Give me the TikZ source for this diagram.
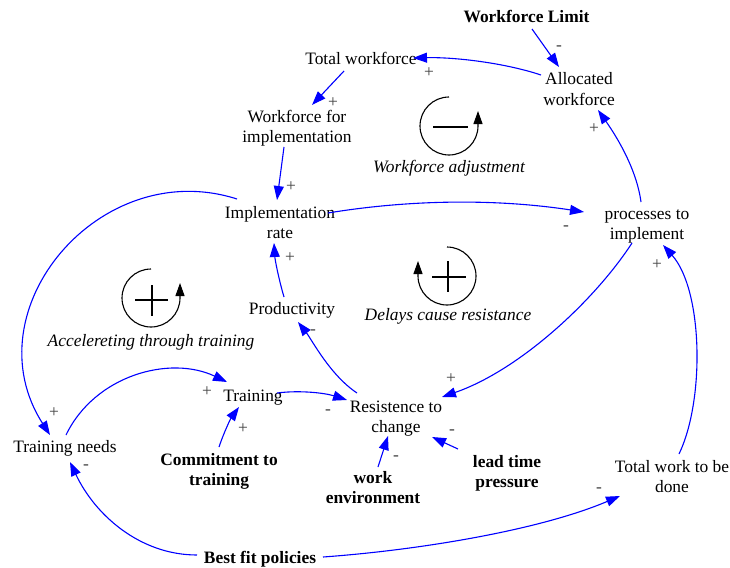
\documentclass[tikz,border=0pt]{standalone}
\usepackage{fontspec}
\setmainfont{Liberation Serif}
\usetikzlibrary{arrows.meta,calc}

\newcommand\cldfont{\fontsize{17.4}{20.5}\selectfont}

\tikzset{
  var/.style={anchor=base, align=center, inner sep=0pt, font=\cldfont},
  ext/.style={var, font=\cldfont\bfseries},
  loopname/.style={anchor=base, inner sep=0pt, font=\cldfont\itshape},
  sign/.style={inner sep=0pt, text=black!75, font=\cldfont},
  link/.style={blue, line width=1.1pt, -{Triangle[length=14pt,width=10pt]}},
  loopline/.style={line width=1.1pt, -{Triangle[length=13pt,width=9pt]}},
  polarity/.style={line width=2pt},
}

\begin{document}
\begin{tikzpicture}[x=1pt, y=-1pt]
\useasboundingbox (0,0) rectangle (730,567);

% variables (base = baseline of the last line)
\node[ext] (wl)     at (526.5,23)   {Workforce Limit};
\node[var] (twf)    at (361,65)     {Total workforce};
\node[var] (alloc)  at (579,105.5)  {Allocated\\workforce};
\node[var] (wfi)    at (297,142.5)  {Workforce for\\implementation};
\node[var] (impl)   at (280,238.5)  {Implementation\\rate};
\node[var] (proc)   at (647,239.5)  {processes to\\implement};
\node[var] (prod)   at (292,314)    {Productivity};
\node[var] (train)  at (253,401)    {Training};
\node[var] (res)    at (396,432.5)  {Resistence to\\change};
\node[var] (tneeds) at (65,452)     {Training needs};
\node[ext] (commit) at (219,485.5)  {Commitment to\\training};
\node[ext] (wenv)   at (373,503.5)  {work\\environment};
\node[ext] (lead)   at (507,487.5)  {lead time\\pressure};
\node[var] (twork)  at (672,492.5)  {Total work to be\\done};
\node[ext] (bfp)    at (260,563)    {Best fit policies};

% causal links
\draw[link] ($(wl.base)+(5.5,6)$) -- ($(alloc.base)+(-20,-38.5)$);
\draw[link] ($(alloc.base)+(-38,-30.5)$) .. controls (505,63) and (455,57) .. ($(twf.base)+(52,-7)$);
\draw[link] ($(twf.base)+(-17,6)$) -- ($(wfi.base)+(15,-37.5)$);
\draw[link] ($(wfi.base)+(-13,4.5)$) -- ($(impl.base)+(-3,-38.5)$);
\draw[link] ($(impl.base)+(48,-25.5)$) .. controls (413,199) and (499,199) .. ($(proc.base)+(-63,-27.5)$);
\draw[link] ($(proc.base)+(-6,-37.5)$) .. controls (636,165) and (612,130) .. ($(alloc.base)+(19,4.5)$);
\draw[link] ($(impl.base)+(-43,-39.5)$) .. controls (100,155) and (-30,310) .. ($(tneeds.base)+(-15,-17)$);
\draw[link] ($(prod.base)+(-8,-17)$) .. controls (279,280) and (275,260) .. ($(impl.base)+(-6,4.5)$);
\draw[link] ($(res.base)+(-39,-39.5)$) .. controls (330,375) and (312,340) .. ($(prod.base)+(6,8)$);
\draw[link] ($(tneeds.base)+(1,-17)$) .. controls (95,375) and (170,355) .. ($(train.base)+(-26,-19)$);
\draw[link] ($(train.base)+(24,-8)$) .. controls (300,390) and (325,393) .. ($(res.base)+(-49,-32.5)$);
\draw[link] ($(commit.base)+(0,-38.5)$) .. controls (224,432) and (231,418) .. ($(train.base)+(-14,6)$);
\draw[link] ($(wenv.base)+(5,-36.5)$) -- ($(res.base)+(-8,3.5)$);
\draw[link] ($(lead.base)+(-49,-38.5)$) -- ($(res.base)+(36,4.5)$);
\draw[link] ($(proc.base)+(-15,3.5)$) .. controls (595,300) and (520,370) .. ($(res.base)+(46,-35.5)$);
\draw[link] ($(twork.base)+(7,-38.5)$) .. controls (705,400) and (703,290) .. ($(proc.base)+(16,5.5)$);
\draw[link] ($(bfp.base)+(-63,-8)$) .. controls (140,555) and (95,515) .. ($(tneeds.base)+(5,10)$);
\draw[link] ($(bfp.base)+(63,-6)$) .. controls (420,550) and (540,530) .. ($(twork.base)+(-52,3.5)$);

% link polarities
\node[sign] (s1)  at (559,48)  {-};
\node[sign] (s2)  at (429,73)  {+};
\node[sign] (s3)  at (333,103) {+};
\node[sign] (s4)  at (291,187) {+};
\node[sign] (s5)  at (566,228) {-};
\node[sign] (s6)  at (594,129) {+};
\node[sign] (s7)  at (54,413)  {+};
\node[sign] (s8)  at (290,258) {+};
\node[sign] (s9)  at (313,332) {-};
\node[sign] (s10) at (207,392) {+};
\node[sign] (s11) at (328,412) {-};
\node[sign] (s12) at (243,429) {+};
\node[sign] (s13) at (396,458) {-};
\node[sign] (s14) at (452,432) {-};
\node[sign] (s15) at (451,379) {+};
\node[sign] (s16) at (657,265) {+};
\node[sign] (s17) at (86,467)  {-};
\node[sign] (s18) at (599,490) {-};

% loop: workforce adjustment (balancing)
\draw[loopline] (449,97) arc[start angle=270, end angle=0, radius=29] -- ++(0,-15);
\draw[polarity] (433,127) -- (468,127);
\node[loopname] (l1) at (449,172) {Workforce adjustment};

% loop: delays cause resistance (reinforcing)
\draw[loopline] (447,247) arc[start angle=270, end angle=540, radius=29] -- ++(0,-15);
\draw[polarity] (432,277) -- (466,277) (448,261) -- (448,292);
\node[loopname] (l2) at (448,320) {Delays cause resistance};

% loop: accelerating through training (reinforcing)
\draw[loopline] (151,269) arc[start angle=270, end angle=0, radius=29] -- ++(0,-15);
\draw[polarity] (135,300) -- (168,300) (152,285) -- (152,316);
\node[loopname] (l3) at (151,346) {Accelereting through training};
\end{tikzpicture}
\end{document}
